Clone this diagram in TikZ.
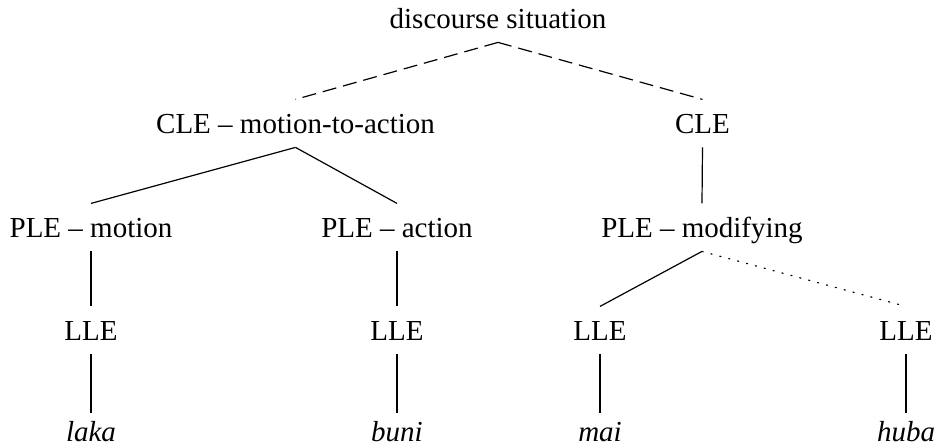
\documentclass[tikz,border=0pt]{standalone}
\usepackage{fontspec}
\setmainfont{Liberation Serif}

\begin{document}
\begin{tikzpicture}[x=0.5pt, y=-0.5pt,
        level/.style={anchor=base, inner xsep=0pt, inner ysep=7pt,
            text height=9.6pt, text depth=0pt,
            font=\fontsize{14.5}{17}\selectfont},
        word/.style={level, inner ysep=2pt, text height=12pt,
            font=\fontsize{14.5}{17}\selectfont\itshape},
        link/.style={line width=0.6pt},
        loose/.style={link, dash pattern=on 7pt off 3.5pt},
        faint/.style={link, dash pattern=on 0.6pt off 4pt, line cap=round}]
        \useasboundingbox (0,0) rectangle (943,446);

        % Ebenen
        \node[level] (ds) at (498,28) {discourse situation};

        \node[level] (cleA) at (295.5,133) {CLE \textendash{} motion-to-action};
        \node[level] (cleB) at (702.5,133) {CLE};

        \node[level] (pleA) at (91,237) {PLE \textendash{} motion};
        \node[level] (pleB) at (397,237) {PLE \textendash{} action};
        \node[level] (pleC) at (702,237) {PLE \textendash{} modifying};

        \node[level] (lleA) at (91,340) {LLE};
        \node[level] (lleB) at (397,340) {LLE};
        \node[level] (lleC) at (600,340) {LLE};
        \node[level] (lleD) at (906,340) {LLE};

        \node[word] (laka) at (91,441) {laka};
        \node[word] (buni) at (397,441) {buni};
        \node[word] (mai)  at (600,441) {mai};
        \node[word] (huba) at (906,441) {huba};

        % Kanten
        \draw[loose] (ds.south) -- (cleA.north);
        \draw[loose] (ds.south) -- (cleB.north);

        \draw[link] (cleA.south) -- (pleA.north);
        \draw[link] (cleA.south) -- (pleB.north);
        \draw[link] (cleB.south) -- (pleC.north);

        \draw[link] (pleA.south) -- (lleA.north);
        \draw[link] (pleB.south) -- (lleB.north);
        \draw[link] (pleC.south) -- (lleC.north);
        \draw[faint] (pleC.south) -- (lleD.north);

        \foreach \l/\w in {lleA/laka, lleB/buni, lleC/mai, lleD/huba} {
            \draw[link] (\l.south) -- (\w.north);
        }
    \end{tikzpicture}
\end{document}
